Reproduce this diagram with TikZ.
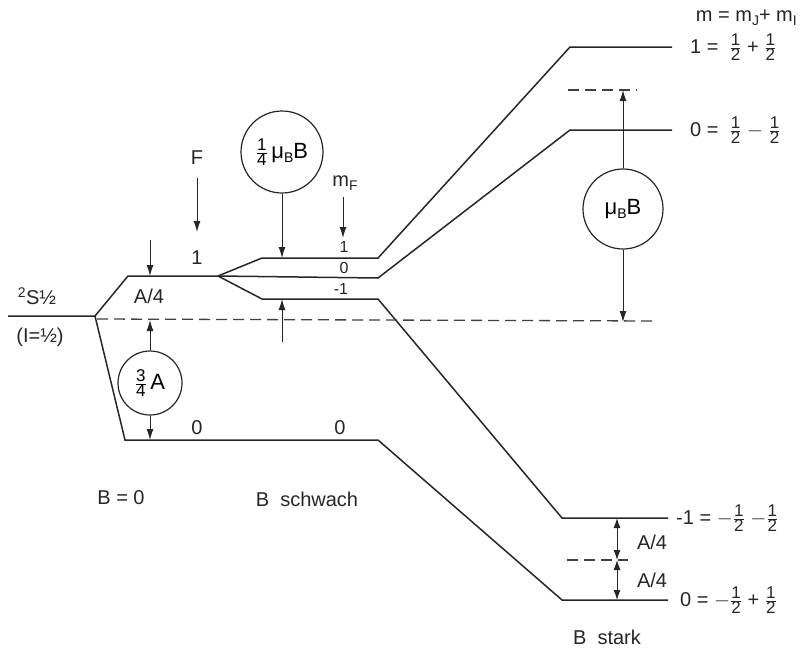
\documentclass[tikz,border=0pt]{standalone}
\usepackage{fontspec}
\setmainfont{Liberation Sans}
\usetikzlibrary{arrows.meta}
\newcommand\fr[2]{\ensuremath{\frac{\mbox{\fontsize{17}{17}\selectfont #1}}{\mbox{\fontsize{17}{17}\selectfont #2}}}}
\newcommand\subB[1]{\raisebox{-4pt}{\fontsize{14}{14}\selectfont #1}}
\begin{document}
\begin{tikzpicture}[x=1pt,y=-1pt,
  lvl/.style={line width=1.5pt, draw=black!85, line join=miter},
  dsh/.style={line width=1.3pt, draw=black!75, dash pattern=on 11pt off 6pt},
  arr/.style={line width=1pt, draw=black!85, -{Latex[length=11pt,width=7pt]}},
  darr/.style={line width=1pt, draw=black!85, {Latex[length=10pt,width=7pt]}-{Latex[length=10pt,width=7pt]}},
  ring/.style={circle, draw=black!85, line width=1.2pt, inner sep=0pt},
  lbl/.style={font=\fontsize{20}{24}\selectfont, inner sep=0pt, text=black!85},
  sml/.style={font=\fontsize{16}{18}\selectfont, inner sep=0pt, text=black!85}]
\useasboundingbox (0,0) rectangle (805,664);

% level coordinates
\coordinate (s0) at (8,316);
\coordinate (br) at (95,316);
\coordinate (f1a) at (128,276);
\coordinate (f1b) at (218,276);
\coordinate (f0a) at (125,440);
\coordinate (f0b) at (378,440);
\coordinate (u1) at (262,258); \coordinate (u2) at (378,258);
\coordinate (u3) at (570,47);  \coordinate (u4) at (672,47);
\coordinate (m2) at (378,278); \coordinate (m3) at (570,130); \coordinate (m4) at (672,130);
\coordinate (l1) at (262,299); \coordinate (l2) at (378,299);
\coordinate (l3) at (562,518); \coordinate (l4) at (668,518);
\coordinate (z3) at (562,600); \coordinate (z4) at (668,600);

\draw[lvl] (s0) -- (br) -- (f1a) -- (f1b);
\draw[lvl] (br) -- (f0a) -- (f0b) -- (z3) -- (z4);
\draw[lvl] (f1b) -- (u1) -- (u2) -- (u3) -- (u4);
\draw[lvl] (f1b) -- (m2) -- (m3) -- (m4);
\draw[lvl] (f1b) -- (l1) -- (l2) -- (l3) -- (l4);

% dashed reference lines
\coordinate (d0) at (97,319); \coordinate (d1) at (656,321);
\draw[dsh] (d0) -- (d1);
\coordinate (t0) at (568,90); \coordinate (t1) at (637,90);
\draw[dsh] (t0) -- (t1);
\coordinate (b0) at (567,560); \coordinate (b1) at (628,560);
\draw[dsh] (b0) -- (b1);

% circles
\node[ring, minimum size=82pt] (c1) at (282,152) {\fontsize{22}{26}\selectfont\fr{1}{4}\,μ\subB{B}B};
\node[ring, minimum size=64pt] (c2) at (150,383) {\fontsize{22}{26}\selectfont\fr{3}{4}\,A};
\node[ring, minimum size=80pt] (c3) at (623,209) {\fontsize{22}{26}\selectfont μ\subB{B}B};

% arrows
\coordinate (a1) at (282,258);
\coordinate (a2s) at (282,342); \coordinate (a2) at (282,299);
\draw[arr] (c1.south) -- (a1);
\draw[arr] (a2s) -- (a2);
\coordinate (a3s) at (150,240); \coordinate (a3) at (150,276);
\draw[arr] (a3s) -- (a3);
\coordinate (a4) at (150,320); \coordinate (a5) at (150,440);
\draw[arr] (c2.north) -- (a4);
\draw[arr] (c2.south) -- (a5);
\coordinate (a6) at (623,90); \coordinate (a7) at (623,322);
\draw[arr] (c3.north) -- (a6);
\draw[arr] (c3.south) -- (a7);
\coordinate (fa) at (197,178); \coordinate (fb) at (197,232);
\draw[arr] (fa) -- (fb);
\coordinate (ma) at (343,197); \coordinate (mb) at (343,238);
\draw[arr] (ma) -- (mb);
\coordinate (p1) at (617,518); \coordinate (p2) at (617,560); \coordinate (p3) at (617,600);
\draw[darr] (p1) -- (p2);
\draw[darr] (p2) -- (p3);

% labels
\node[lbl] (tF) at (197,158) {F};
\node[lbl] (tmF) at (345,183) {m\subB{F}};
\node[lbl] (tF1) at (197,258) {1};
\node[lbl] (tF0) at (197,428) {0};
\node[lbl] (tW0) at (340,428) {0};
\node[sml] (tm1) at (344,247) {1};
\node[sml] (tm0) at (344,268) {0};
\node[sml] (tmm) at (341,289) {-1};
\node[lbl] (tA) at (149,296) {A/4};
\node[lbl] (tS) at (37,296) {\textsuperscript{2}S½};
\node[lbl] (tI) at (40,337) {(I=½)};
\node[lbl] (tB0) at (121,498) {B = 0};
\node[lbl] (tBw) at (307,499) {B\ \ schwach};
\node[lbl] (tBs) at (607,637) {B\ \ stark};
\node[lbl] (tA1) at (652,542) {A/4};
\node[lbl] (tA2) at (652,580) {A/4};

\node[lbl, anchor=east] (tm) at (797,18) {m = m\subB{J}+ m\subB{I}};
\node[lbl, anchor=west] (r1) at (690,47) {1 =\ \ \fr{1}{2} + \fr{1}{2}};
\node[lbl, anchor=west] (r2) at (690,130) {0 =\ \ \fr{1}{2} $-$ \fr{1}{2}};
\node[lbl, anchor=west] (r3) at (676,518) {-1 = $-$\fr{1}{2} $-$\fr{1}{2}};
\node[lbl, anchor=west] (r4) at (680,600) {0 = $-$\fr{1}{2} + \fr{1}{2}};
\end{tikzpicture}
\end{document}
